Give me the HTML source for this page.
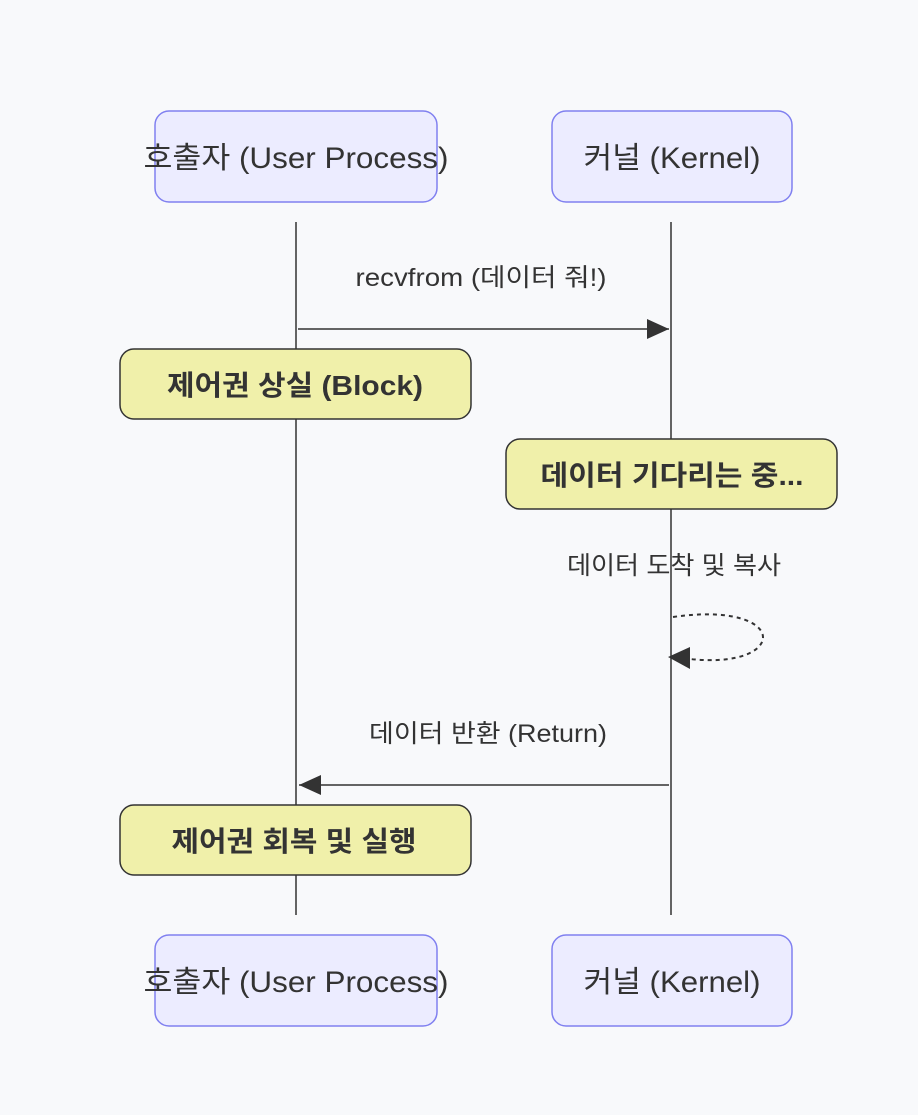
<!DOCTYPE html>
<html><head><meta charset="utf-8"><style>
html,body{margin:0;padding:0;background:#f8f9fb;}
svg{display:block;font-family:"Liberation Sans","Noto Sans CJK KR",sans-serif;}
</style></head><body>
<svg width="918" height="1115" viewBox="0 0 918 1115" xmlns="http://www.w3.org/2000/svg">
<rect width="918" height="1115" fill="#f8f9fb"/>
<defs><marker id="a" markerWidth="24" markerHeight="20" refX="22" refY="10" orient="auto" markerUnits="userSpaceOnUse"><path d="M0,0 L22,10 L0,20 z" fill="#333"/></marker></defs>
<line x1="296" y1="222" x2="296" y2="915" stroke="#333" stroke-width="1.5"/>
<line x1="671" y1="222" x2="671" y2="915" stroke="#333" stroke-width="1.5"/>
<g fill="#ececff" stroke="#8080f0" stroke-width="1.5">
<rect x="155" y="111" width="282" height="91" rx="14"/>
<rect x="552" y="111" width="240" height="91" rx="14"/>
<rect x="155" y="935" width="282" height="91" rx="14"/>
<rect x="552" y="935" width="240" height="91" rx="14"/>
</g>
<g font-size="30" fill="#333" text-anchor="middle" lengthAdjust="spacingAndGlyphs">
<text x="296" y="168" textLength="305" lengthAdjust="spacingAndGlyphs">호출자 (User Process)</text>
<text x="672" y="168" textLength="177" lengthAdjust="spacingAndGlyphs">커널 (Kernel)</text>
<text x="296" y="992" textLength="305" lengthAdjust="spacingAndGlyphs">호출자 (User Process)</text>
<text x="672" y="992" textLength="177" lengthAdjust="spacingAndGlyphs">커널 (Kernel)</text>
</g>
<line x1="298" y1="329" x2="669" y2="329" stroke="#333" stroke-width="1.5" marker-end="url(#a)"/>
<line x1="669" y1="785" x2="299" y2="785" stroke="#333" stroke-width="1.5" marker-end="url(#a)"/>
<path d="M673,617 C790,600 790,670 690,659" fill="none" stroke="#333" stroke-width="2" stroke-dasharray="4,4"/>
<path d="M668,657 L690,647 L690,669 z" fill="#333"/>
<g font-size="25" fill="#333" text-anchor="middle">
<text x="481" y="286" textLength="251" lengthAdjust="spacingAndGlyphs">recvfrom (데이터 줘!)</text>
<text x="674" y="574" textLength="214" lengthAdjust="spacingAndGlyphs">데이터 도착 및 복사</text>
<text x="488" y="742" textLength="238" lengthAdjust="spacingAndGlyphs">데이터 반환 (Return)</text>
</g>
<g fill="#f0f0aa" stroke="#333" stroke-width="1.5">
<rect x="120" y="349" width="351" height="70" rx="14"/>
<rect x="506" y="439" width="331" height="70" rx="14"/>
<rect x="120" y="805" width="351" height="70" rx="14"/>
</g>
<g font-size="28" font-weight="bold" fill="#333" text-anchor="middle">
<text x="295" y="395" textLength="256" lengthAdjust="spacingAndGlyphs">제어권 상실 (Block)</text>
<text x="672" y="485" textLength="263" lengthAdjust="spacingAndGlyphs">데이터 기다리는 중...</text>
<text x="294" y="851" textLength="245" lengthAdjust="spacingAndGlyphs">제어권 회복 및 실행</text>
</g>
</svg>
</body></html>
